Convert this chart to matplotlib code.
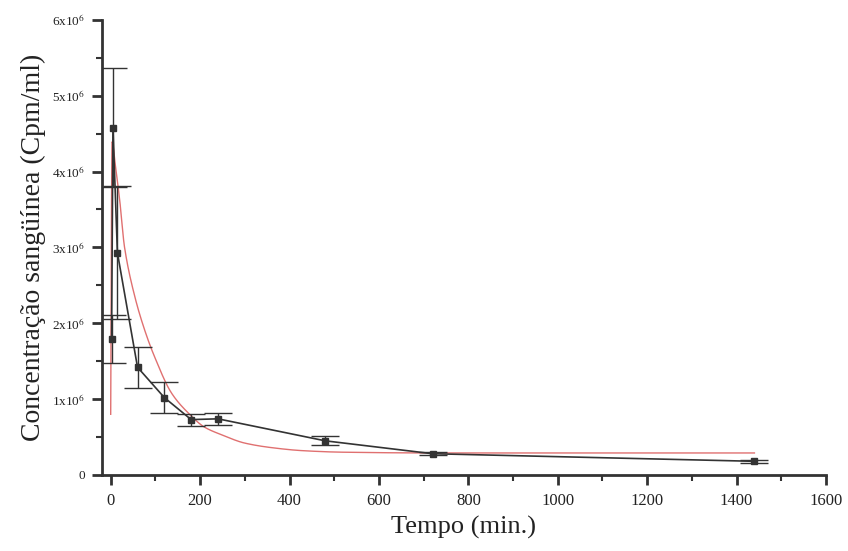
import matplotlib
matplotlib.use('Agg')
import matplotlib.pyplot as plt
from matplotlib.ticker import MultipleLocator, FuncFormatter
import numpy as np

# Measured points (time in min, blood concentration in cpm/ml)
tempo = [2, 5, 15, 60, 120, 180, 240, 480, 720, 1440]
conc = [1.79e6, 4.58e6, 2.93e6, 1.42e6, 1.02e6, 0.73e6, 0.74e6, 0.45e6, 0.28e6, 0.18e6]
erro = [0.32e6, 0.79e6, 0.88e6, 0.27e6, 0.20e6, 0.08e6, 0.08e6, 0.06e6, 0.02e6, 0.02e6]

# Fitted curve (red)
tempo_fit = [0, 3, 10, 20, 31, 54, 76, 98, 136, 173, 210, 248, 300, 360,
             430, 520, 720, 1000, 1440]
conc_fit = [0.8e6, 4.4e6, 4.1e6, 3.63e6, 3.0e6, 2.35e6, 1.91e6, 1.56e6, 1.08e6,
            0.82e6, 0.63e6, 0.53e6, 0.42e6, 0.36e6, 0.32e6, 0.30e6, 0.29e6,
            0.29e6, 0.29e6]


def hermite_smooth(x, y, n=1500):
    # monotone-ish cubic Hermite through the read points
    x = np.asarray(x, float)
    y = np.asarray(y, float)
    d = np.diff(y) / np.diff(x)
    m = np.zeros_like(y)
    m[0], m[-1] = d[0], d[-1]
    for i in range(1, len(y) - 1):
        if d[i - 1] * d[i] <= 0:
            m[i] = 0.0
        else:
            m[i] = 2.0 / (1.0 / d[i - 1] + 1.0 / d[i])
    xs = np.linspace(x[0], x[-1], n)
    idx = np.clip(np.searchsorted(x, xs) - 1, 0, len(x) - 2)
    h = x[idx + 1] - x[idx]
    t = (xs - x[idx]) / h
    h00 = 2 * t**3 - 3 * t**2 + 1
    h10 = t**3 - 2 * t**2 + t
    h01 = -2 * t**3 + 3 * t**2
    h11 = t**3 - t**2
    ys = h00 * y[idx] + h10 * h * m[idx] + h01 * y[idx + 1] + h11 * h * m[idx + 1]
    return xs, ys


plt.rcParams['font.family'] = ['Liberation Serif', 'DejaVu Serif']
plt.rcParams['mathtext.fontset'] = 'stix'

fig = plt.figure(figsize=(8.48, 5.51), dpi=100)
ax = fig.add_axes([0.120, 0.138, 0.854, 0.826])

spine_color = '#333333'
xs, ys = hermite_smooth(tempo_fit, conc_fit)
ax.plot(xs, ys, color='#e07070', lw=1.0, zorder=2)
ax.errorbar(tempo, conc, yerr=erro, fmt='s-', color='#333333', ms=5,
            lw=1.2, elinewidth=1.0, ecolor='#333333', capsize=10,
            capthick=1.0, zorder=3)

ax.set_xlim(-20, 1600)
ax.set_ylim(0, 6e6)

for side in ['top', 'right']:
    ax.spines[side].set_visible(False)
for side in ['left', 'bottom']:
    ax.spines[side].set_linewidth(2)
    ax.spines[side].set_color(spine_color)

ax.xaxis.set_major_locator(MultipleLocator(200))
ax.xaxis.set_minor_locator(MultipleLocator(100))
ax.yaxis.set_major_locator(MultipleLocator(1e6))
ax.yaxis.set_minor_locator(MultipleLocator(0.5e6))


def y_fmt(v, pos):
    n = int(round(v / 1e6))
    if n == 0:
        return '0'
    return f'{n}x10$^{{6}}$'


ax.yaxis.set_major_formatter(FuncFormatter(y_fmt))

ax.tick_params(axis='both', which='major', direction='out', length=7,
               width=2, color=spine_color, labelcolor='#222222')
ax.tick_params(axis='both', which='minor', direction='out', length=4,
               width=1.5, color=spine_color)
ax.tick_params(axis='x', labelsize=12, pad=6)
ax.tick_params(axis='y', labelsize=9.5, pad=5)

ax.set_xlabel('Tempo (min.)', fontsize=19, color='#222222', labelpad=5)
ax.set_ylabel('Concentração sangüínea (Cpm/ml)', fontsize=20, color='#222222',
              labelpad=4)

fig.savefig('out.png', dpi=100)
